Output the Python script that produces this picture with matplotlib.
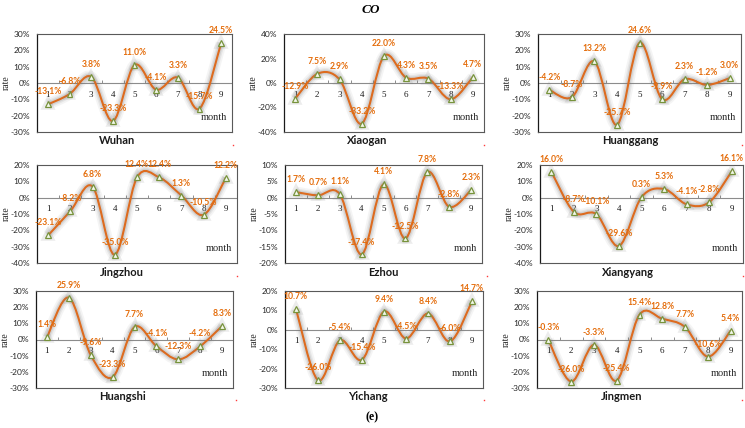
import numpy as np
import matplotlib

matplotlib.use("Agg")
import matplotlib.pyplot as plt
import matplotlib.patheffects as pe
from matplotlib.lines import Line2D
from matplotlib.patches import PathPatch
from matplotlib.path import Path
from matplotlib.ticker import FuncFormatter, MultipleLocator

# ---- data (percent change by month) ----
months = [1, 2, 3, 4, 5, 6, 7, 8, 9]
cities = ["Wuhan", "Xiaogan", "Huanggang",
          "Jingzhou", "Ezhou", "Xiangyang",
          "Huangshi", "Yichang", "Jingmen"]
wuhan = [-13.1, -6.8, 3.8, -23.3, 11.0, -4.1, 3.3, -15.7, 24.5]
xiaogan = [-12.9, 7.5, 2.9, -33.2, 22.0, 4.3, 3.5, -13.3, 4.7]
huanggang = [-4.2, -8.7, 13.2, -25.7, 24.6, -9.9, 2.3, -1.2, 3.0]
jingzhou = [-23.1, -8.2, 6.8, -35.0, 12.4, 12.4, 1.3, -10.5, 12.2]
ezhou = [1.7, 0.7, 1.1, -17.4, 4.1, -12.5, 7.8, -2.8, 2.3]
xiangyang = [16.0, -8.7, -10.1, -29.6, 0.3, 5.3, -4.1, -2.8, 16.1]
huangshi = [1.4, 25.9, -9.6, -23.3, 7.7, -4.1, -12.3, -4.2, 8.3]
yichang = [10.7, -26.0, -5.4, -15.4, 9.4, -4.5, 8.4, -6.0, 14.7]
jingmen = [-0.3, -26.0, -3.3, -25.4, 15.4, 12.8, 7.7, -10.6, 5.4]
series = [wuhan, xiaogan, huanggang, jingzhou, ezhou, xiangyang,
          huangshi, yichang, jingmen]
# y axis (min, max, step) for each panel
y_axes = [(-30, 30, 10), (-40, 40, 20), (-30, 30, 10),
          (-40, 20, 10), (-20, 10, 5), (-40, 20, 10),
          (-30, 30, 10), (-30, 20, 10), (-30, 30, 10)]
month_word = ["month", "month", "month", "month", "monh", "month",
              "month", "month", "month"]

# ---- layout in pixels of the 745x428 canvas ----
W, H = 745, 428
boxes = [(37, 34, 232, 132), (284, 34, 484, 132), (538, 34, 741, 132),
         (37, 165, 237, 263), (285, 165, 482, 263), (540, 165, 743, 263),
         (36, 291, 233, 388), (285, 291, 483, 388), (537, 291, 742, 388)]
name_pos = [(117, 141), (367, 141), (630, 141),
            (122, 272), (383, 272), (628, 272),
            (122, 397), (368, 397), (622, 397)]
red_marks = [(233, 145), (484, 145), (742, 145),
             (237, 276), (487, 276), (743, 276),
             (236, 400), (484, 400), (742, 400)]

ORANGE = "#DD6B1F"
LABEL = "#E46C0A"
GREEN = "#77933C"
SANS = ["Lato", "DejaVu Sans"]
SERIF = ["Liberation Serif", "DejaVu Serif"]

glow = [pe.Stroke(linewidth=8, foreground="#7f7f7f", alpha=0.08),
        pe.Stroke(linewidth=5.5, foreground="#7f7f7f", alpha=0.12),
        pe.Stroke(linewidth=3.5, foreground="#6f6f6f", alpha=0.16),
        pe.Normal()]


def smooth_path(x, y):
    # Excel-style smoothed line: cubic Bezier through each point
    pts = np.column_stack([x, y]).astype(float)
    ext = np.vstack([pts[0], pts, pts[-1]])
    verts = [pts[0]]
    codes = [Path.MOVETO]
    for i in range(len(pts) - 1):
        p0, p1, p2, p3 = ext[i], ext[i + 1], ext[i + 2], ext[i + 3]
        verts += [p1 + (p2 - p0) / 6.0, p2 - (p3 - p1) / 6.0, p2]
        codes += [Path.CURVE4] * 3
    return Path(verts, codes)


fig = plt.figure(figsize=(W / 100, H / 100), dpi=100)

for k, (city, vals) in enumerate(zip(cities, series)):
    l, t, r, b = boxes[k]
    ax = fig.add_axes([l / W, 1 - b / H, (r - l) / W, (b - t) / H])
    lo, hi, step = y_axes[k]
    ax.set_xlim(0.5, len(months) + 0.5)
    ax.set_ylim(lo, hi)
    ax.yaxis.set_major_locator(MultipleLocator(step))
    ax.yaxis.set_major_formatter(FuncFormatter(lambda v, _: f"{v:.0f}%"))
    ax.set_xticks([])
    ax.tick_params(axis="y", length=0, pad=5, labelsize=6, labelcolor="#262626")
    for lab in ax.get_yticklabels():
        lab.set_family(SANS)
    for side in ["top", "right", "bottom"]:
        ax.spines[side].set_color("#595959")
        ax.spines[side].set_linewidth(0.8)
    ax.spines["left"].set_color("#1a1a1a")
    ax.spines["left"].set_linewidth(0.9)

    # category axis crossing at zero
    ax.axhline(0, color="#8c8c8c", lw=0.8, zorder=1)
    bounds = np.arange(len(months) + 1) + 0.5
    ax.plot(bounds, np.zeros_like(bounds), ls="none", marker=2, ms=2.2,
            mew=0.7, color="#8c8c8c", zorder=1)
    for m in months:
        ax.annotate(str(m), (m, 0), xytext=(0, -8.3), textcoords="offset points",
                    ha="center", va="center", fontsize=6.5, family=SERIF,
                    color="#1a1a1a")

    patch = PathPatch(smooth_path(months, vals), facecolor="none",
                      edgecolor=ORANGE, lw=1.5, zorder=3, path_effects=glow)
    ax.add_patch(patch)
    ax.plot(months, vals, ls="none", marker="^", ms=4.3, mfc="#f4f8ec",
            mec=GREEN, mew=0.9, zorder=4,
            path_effects=[pe.Stroke(linewidth=4, foreground="#7f7f7f", alpha=0.14),
                          pe.Normal()])
    for m, v in zip(months, vals):
        ax.annotate(f"{v:.1f}%", (m, v), xytext=(0, 9), textcoords="offset points",
                    ha="center", va="center", fontsize=6.2, fontweight="bold",
                    family=SANS, color=LABEL, zorder=5, annotation_clip=False)

    ax.text(0.975, 0.12, month_word[k], transform=ax.transAxes, ha="right",
            va="baseline", fontsize=7.5, family=SERIF, color="#262626")
    ax.set_ylabel("rate", fontsize=7, family=SERIF, color="#262626")
    ax.yaxis.set_label_coords(-26 / (r - l), 0.5)

    nx, ny = name_pos[k]
    fig.text(nx / W, 1 - ny / H, city, ha="center", va="center", fontsize=8,
             fontweight="bold", family=SANS, color="#1a1a1a")

for rx, ry in red_marks:
    fig.add_artist(Line2D([rx / W], [1 - ry / H], transform=fig.transFigure,
                          marker="s", ms=1.0, mew=0, color="#ff3b3b", ls="none"))

fig.text(371 / W, 1 - 10 / H, "CO", ha="center", va="center", fontsize=9.5,
         fontweight="bold", fontstyle="italic", family=SERIF)
fig.text(372 / W, 1 - 417 / H, "(e)", ha="center", va="center", fontsize=8.5,
         fontweight="bold", family=SERIF)

fig.savefig("out.png", dpi=100)
